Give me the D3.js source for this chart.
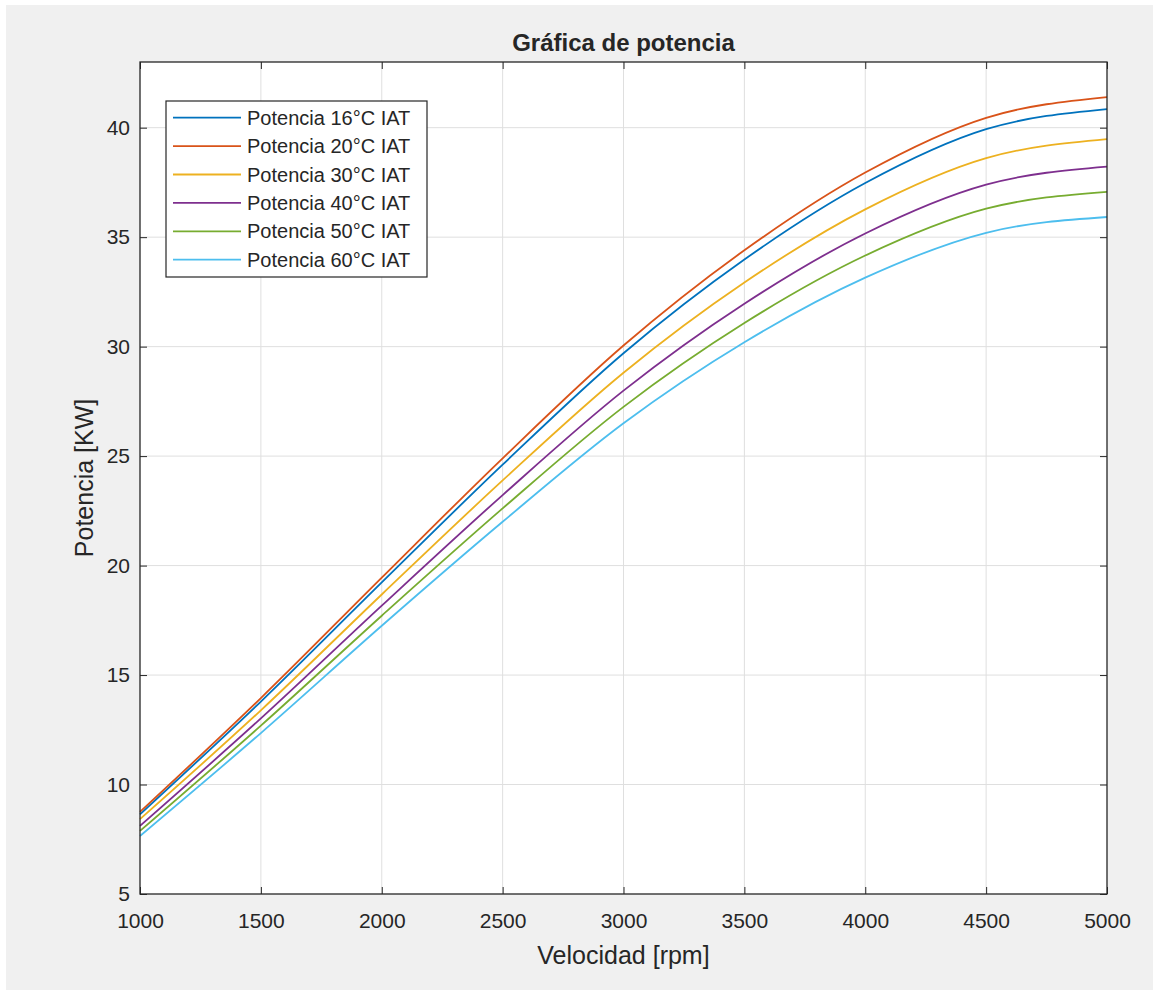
<!DOCTYPE html>
<html>
<head>
<meta charset="utf-8">
<script src="https://cdn.jsdelivr.net/npm/d3@7"></script>
<style>
  body { margin: 0; background: #fff; }
  svg { display: block; }
  text { font-family: Arial, "Liberation Sans", Helvetica, sans-serif; fill: #262626; }
</style>
</head>
<body>
<svg id="chart" width="1153" height="991"></svg>
<script>
// velocidad del motor (rpm)
const rpm = [1000, 1500, 2000, 2500, 3000, 3500, 4000, 4500, 5000];

// potencia (kW) para cada temperatura de admision
const pot16 = [8.64, 13.79, 19.23, 24.61, 29.7, 33.98, 37.47, 39.93, 40.85];
const pot20 = [8.75, 13.95, 19.45, 24.9, 30.05, 34.4, 37.95, 40.45, 41.4];
const pot30 = [8.42, 13.39, 18.68, 23.89, 28.81, 32.93, 36.27, 38.61, 39.48];
const pot40 = [8.11, 13.02, 18.17, 23.22, 27.99, 31.96, 35.17, 37.4, 38.22];
const pot50 = [7.88, 12.69, 17.71, 22.61, 27.25, 31.08, 34.16, 36.3, 37.07];
const pot60 = [7.65, 12.35, 17.25, 22.0, 26.5, 30.2, 33.15, 35.2, 35.92];

const seriesNames = [
  "Potencia 16°C IAT", "Potencia 20°C IAT", "Potencia 30°C IAT",
  "Potencia 40°C IAT", "Potencia 50°C IAT", "Potencia 60°C IAT"
];
const seriesValues = [pot16, pot20, pot30, pot40, pot50, pot60];
const colors = ["#0072BD", "#D95319", "#EDB120", "#7E2F8E", "#77AC30", "#4DBEEE"];

const xTicks = [1000, 1500, 2000, 2500, 3000, 3500, 4000, 4500, 5000];
const yTicks = [5, 10, 15, 20, 25, 30, 35, 40];

const svg = d3.select("#chart");

// figure background
svg.append("rect")
  .attr("x", 6).attr("y", 5)
  .attr("width", 1147).attr("height", 985)
  .attr("fill", "#f0f0f0");

const plotL = 140, plotR = 1107, plotT = 62, plotB = 894;

const x = d3.scaleLinear().domain([1000, 5000]).range([plotL, plotR]);
const y = d3.scaleLinear().domain([5, 43]).range([plotB, plotT]);

svg.append("rect")
  .attr("x", plotL).attr("y", plotT)
  .attr("width", plotR - plotL).attr("height", plotB - plotT)
  .attr("fill", "#fff");

// grid
const grid = svg.append("g").attr("stroke", "#dfdfdf").attr("stroke-width", 1);
grid.selectAll(".gx")
  .data(xTicks.slice(1, -1))
  .enter()
  .append("line")
  .attr("x1", (d) => x(d)).attr("x2", (d) => x(d))
  .attr("y1", plotT).attr("y2", plotB);
grid.selectAll(".gy")
  .data(yTicks.slice(1))
  .enter()
  .append("line")
  .attr("y1", (d) => y(d)).attr("y2", (d) => y(d))
  .attr("x1", plotL).attr("x2", plotR);

// lines
const line = d3.line()
  .x((d, i) => x(rpm[i]))
  .y((d) => y(d))
  .curve(d3.curveMonotoneX);

svg.append("g")
  .selectAll("path")
  .data(seriesValues)
  .enter()
  .append("path")
  .attr("d", (d) => line(d))
  .attr("fill", "none")
  .attr("stroke", (d, i) => colors[i])
  .attr("stroke-width", 1.8);

// axes (ticks inside, MATLAB style)
function styleAxis(g, fontSize) {
  g.select(".domain").remove();
  g.selectAll(".tick line").attr("stroke", "#262626");
  g.selectAll(".tick text")
    .attr("fill", "#262626")
    .style("font-size", fontSize + "px")
    .style("font-family", "Arial, 'Liberation Sans', sans-serif");
}

svg.append("g")
  .attr("transform", `translate(0,${plotB})`)
  .call(d3.axisBottom(x).tickValues(xTicks).tickSizeInner(-7).tickSizeOuter(0).tickPadding(19).tickFormat(d3.format("d")))
  .call((g) => styleAxis(g, 21));
svg.append("g")
  .attr("transform", `translate(0,${plotT})`)
  .call(d3.axisTop(x).tickValues(xTicks).tickSizeInner(-7).tickSizeOuter(0).tickFormat(""))
  .call((g) => styleAxis(g, 21));
svg.append("g")
  .attr("transform", `translate(${plotL},0)`)
  .call(d3.axisLeft(y).tickValues(yTicks).tickSizeInner(-7).tickSizeOuter(0).tickPadding(10).tickFormat(d3.format("d")))
  .call((g) => styleAxis(g, 21));
svg.append("g")
  .attr("transform", `translate(${plotR},0)`)
  .call(d3.axisRight(y).tickValues(yTicks).tickSizeInner(-7).tickSizeOuter(0).tickFormat(""))
  .call((g) => styleAxis(g, 21));

// box
svg.append("rect")
  .attr("x", plotL).attr("y", plotT)
  .attr("width", plotR - plotL).attr("height", plotB - plotT)
  .attr("fill", "none")
  .attr("stroke", "#262626")
  .attr("stroke-width", 1.3);

// title and labels
svg.append("text")
  .attr("x", (plotL + plotR) / 2).attr("y", 51)
  .attr("text-anchor", "middle")
  .style("font-size", "24px").style("font-weight", "bold")
  .text("Gráfica de potencia");

svg.append("text")
  .attr("x", (plotL + plotR) / 2).attr("y", 964)
  .attr("text-anchor", "middle")
  .style("font-size", "25px")
  .text("Velocidad [rpm]");

svg.append("text")
  .attr("transform", `translate(93,${(plotT + plotB) / 2}) rotate(-90)`)
  .attr("text-anchor", "middle")
  .style("font-size", "25px")
  .text("Potencia [KW]");

// legend
const legend = svg.append("g");
legend.append("rect")
  .attr("x", 166).attr("y", 101)
  .attr("width", 261).attr("height", 176)
  .attr("fill", "#fff")
  .attr("stroke", "#262626")
  .attr("stroke-width", 1.2);

const rows = legend.selectAll(".row")
  .data(seriesNames)
  .enter()
  .append("g")
  .attr("transform", (d, i) => `translate(0,${117.7 + i * 28.4})`);
rows.append("line")
  .attr("x1", 173).attr("x2", 241)
  .attr("stroke", (d, i) => colors[i])
  .attr("stroke-width", 1.8);
rows.append("text")
  .attr("x", 247).attr("dy", "0.35em")
  .style("font-size", "20px")
  .text((d) => d);
</script>
</body>
</html>
